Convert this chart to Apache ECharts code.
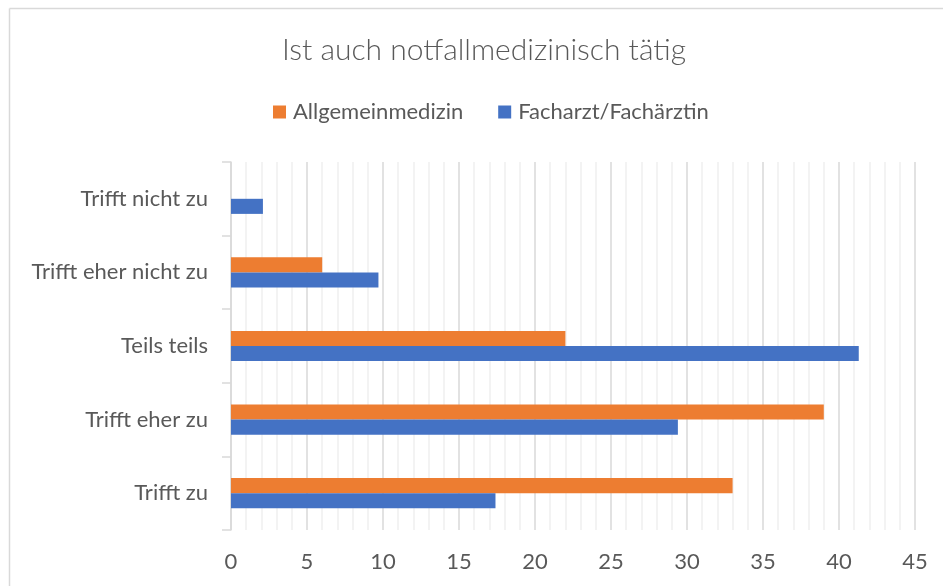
<!DOCTYPE html>
<html>
<head>
<meta charset="utf-8">
<script src="https://cdn.jsdelivr.net/npm/echarts@6/dist/echarts.min.js"></script>
<style>
html,body{margin:0;padding:0;background:#fff;}
#c{width:943px;height:586px;}
</style>
</head>
<body>
<div id="c"></div>
<script>
const categories = ['Trifft zu', 'Trifft eher zu', 'Teils teils', 'Trifft eher nicht zu', 'Trifft nicht zu'];
const allgemeinmedizin = [33.0, 39.0, 22.0, 6.0, 0];
const facharzt = [17.4, 29.4, 41.3, 9.7, 2.1];
const xTicks = [0, 5, 10, 15, 20, 25, 30, 35, 40, 45];

const chart = echarts.init(document.getElementById('c'), null, {renderer: 'canvas'});
const font = 'Lato, Open Sans, sans-serif';
chart.setOption({
  animation: false,
  backgroundColor: '#fff',
  title: {
    text: 'Ist auch notfallmedizinisch tätig',
    left: 479,
    textAlign: 'center',
    top: 30,
    textStyle: {fontFamily: font, fontWeight: 300, fontSize: 30, color: '#595959'}
  },
  legend: {
    data: ['Allgemeinmedizin', 'Facharzt/Fachärztin'],
    top: 96,
    left: 268,
    itemWidth: 13,
    itemHeight: 13,
    itemGap: 35,
    icon: 'rect',
    textStyle: {fontFamily: font, fontSize: 22, color: '#595959', padding: [0, 0, 0, 2]}
  },
  grid: {left: 231, right: 28, top: 162, bottom: 56, containLabel: false},
  xAxis: {
    type: 'value',
    min: 0, max: 45, interval: 5,
    axisLine: {show: false},
    axisTick: {show: false},
    axisLabel: {fontFamily: font, fontSize: 22, color: '#595959', margin: 21,
      formatter: v => xTicks.includes(v) ? String(v) : ''},
    splitLine: {show: true, lineStyle: {color: '#d9d9d9', width: 1.5}},
    minorTick: {show: false, splitNumber: 5},
    minorSplitLine: {show: true, lineStyle: {color: '#efefef', width: 1.5}}
  },
  yAxis: {
    type: 'category',
    data: categories,
    axisLine: {show: true, lineStyle: {color: '#d9d9d9', width: 1.5}},
    axisTick: {show: true, length: 9, lineStyle: {color: '#d9d9d9', width: 1.5}},
    axisLabel: {fontFamily: font, fontSize: 22, color: '#595959', margin: 23}
  },
  series: [
    {name: 'Allgemeinmedizin', type: 'bar', data: allgemeinmedizin, barGap: '0%', barCategoryGap: '59%',
     itemStyle: {color: '#ed7d31'}},
    {name: 'Facharzt/Fachärztin', type: 'bar', data: facharzt, barGap: '0%', barCategoryGap: '59%',
     itemStyle: {color: '#4472c4'}}
  ],
  graphic: [
    {type: 'line', shape: {x1: 9.5, y1: 8.5, x2: 943, y2: 8.5}, style: {stroke: '#d9d9d9', lineWidth: 1.5}},
    {type: 'line', shape: {x1: 9.5, y1: 8.5, x2: 9.5, y2: 586}, style: {stroke: '#d9d9d9', lineWidth: 1.5}}
  ]
});
</script>
</body>
</html>
